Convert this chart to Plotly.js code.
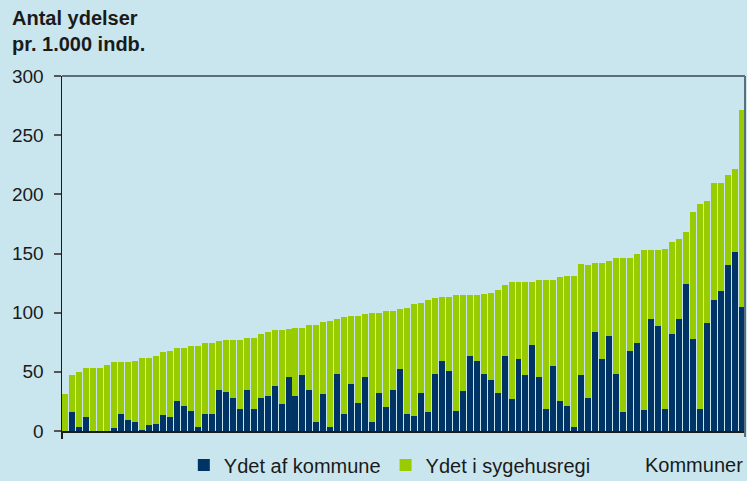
<!DOCTYPE html>
<html>
<head>
<meta charset="utf-8">
<script src="https://cdn.plot.ly/plotly-3.0.1.min.js"></script>
<style>html,body{margin:0;padding:0;background:#C9E6EF;}#chart{width:747px;height:481px;}</style>
</head>
<body>
<div id="chart"></div>
<script>
// Kommuner (sorted by total)
const kommuner = Array.from({length: 98}, (_, i) => i + 1);

// Ydet af kommune (per 1.000 indb.)
const ydetAfKommune = [
  0, 16, 3, 12, 0, 0, 0, 2.5, 14, 9,
  8, 1, 5, 6, 13.5, 12, 25, 21, 17, 3,
  14, 14, 35, 33, 28, 19, 35, 19, 28, 30,
  38, 23, 46, 30, 47, 35, 8, 31, 3, 48,
  14, 40, 24, 46, 8, 32, 20, 35, 52, 14,
  13, 32, 16, 48, 59, 51, 17, 34, 63, 59,
  48, 43, 32, 63, 27, 61, 47, 73, 46, 19,
  55, 25, 21, 3, 47, 28, 84, 61, 80, 48,
  16, 68, 74, 18, 95, 89, 19, 82, 95, 124,
  78, 19, 91, 111, 118, 140, 151, 105
];

// Ydet i sygehusregi (per 1.000 indb.)
const ydetISygehusregi = [
  31, 31, 47, 41, 53, 53, 56, 55.5, 44, 49,
  51, 61, 57, 57, 53.5, 56, 45, 49, 55, 69,
  60, 60, 41, 44, 49, 58, 44, 60, 54, 54,
  47, 62, 40, 57, 40, 55, 82, 61, 90, 47,
  82, 57, 73, 53, 92, 68, 81, 66, 51, 90,
  94, 76, 95, 64, 54, 62, 98, 81, 52, 56,
  68, 74, 87, 60, 99, 65, 79, 53, 82, 109,
  73, 105, 110, 128, 94, 112, 58, 81, 64, 98,
  130, 78, 76, 135, 58, 64, 135, 78, 67, 44,
  107, 173, 103, 99, 92, 76, 70, 166
];

const yTicks = [0, 50, 100, 150, 200, 250, 300];

const FONT = '"Liberation Sans", Arial, sans-serif';
const BG = '#C9E6EF';

const traces = [
  {
    type: 'bar', name: 'Ydet af kommune', x: kommuner, y: ydetAfKommune,
    marker: {color: '#003366', line: {width: 0}}
  },
  {
    type: 'bar', name: 'Ydet i sygehusregi', x: kommuner, y: ydetISygehusregi,
    marker: {color: '#99CC00', line: {width: 0}}
  }
];

const layout = {
  width: 747, height: 481,
  margin: {l: 62, r: 2, t: 76, b: 50, autoexpand: false},
  paper_bgcolor: BG, plot_bgcolor: BG,
  barmode: 'stack', bargap: 0.14,
  font: {family: FONT, color: '#1a1a1a', size: 19},
  xaxis: {
    range: [0.5, 98.5], showgrid: false, zeroline: false,
    showline: true, linecolor: '#1a1a1a', linewidth: 2,
    ticks: 'outside', tickmode: 'array', tickvals: [0.5], ticklen: 6, tickwidth: 1.5, tickcolor: '#1a1a1a',
    showticklabels: false, fixedrange: true
  },
  yaxis: {
    range: [0, 300], showgrid: false, zeroline: false,
    showline: true, linecolor: '#1a1a1a', linewidth: 1.5,
    ticks: 'outside', tickmode: 'array', tickvals: yTicks, ticklen: 7, tickwidth: 2, tickcolor: '#555',
    tickfont: {family: FONT, size: 19, color: '#1a1a1a'}, ticklabelstandoff: 6, fixedrange: true
  },
  showlegend: true,
  legend: {
    orientation: 'h', x: (184 - 62) / 684, xanchor: 'left',
    yref: 'container', y: 1 - 465 / 481, yanchor: 'middle',
    bgcolor: 'rgba(0,0,0,0)', font: {family: FONT, size: 20, color: '#1a1a1a'},
    traceorder: 'normal'
  },
  annotations: [
    {
      text: '<b>Antal ydelser</b><br><b>pr. 1.000 indb.</b>', xref: 'paper', yref: 'paper',
      x: (10 - 62) / 684, xanchor: 'left', y: 1 + (76 - 5) / 355, yanchor: 'top',
      align: 'left', showarrow: false,
      font: {family: FONT, size: 20, color: '#1a1a1a'}
    },
    {
      text: 'Kommuner', xref: 'paper', yref: 'paper', x: 1, xanchor: 'right',
      y: -(465 - 431) / 355, yanchor: 'middle', showarrow: false,
      font: {family: FONT, size: 20, color: '#1a1a1a'}
    }
  ],
  shapes: [
    {type: 'line', xref: 'paper', yref: 'paper', x0: 0, x1: 1, y0: 1, y1: 1, line: {color: '#5F6E76', width: 2}, layer: 'above'},
    {type: 'line', xref: 'paper', yref: 'paper', x0: 1, x1: 1, y0: -6/355, y1: 1, line: {color: '#5F6E76', width: 2}, layer: 'above'}
  ]
};

Plotly.newPlot('chart', traces, layout, {staticPlot: true, displayModeBar: false});
</script>
</body>
</html>
